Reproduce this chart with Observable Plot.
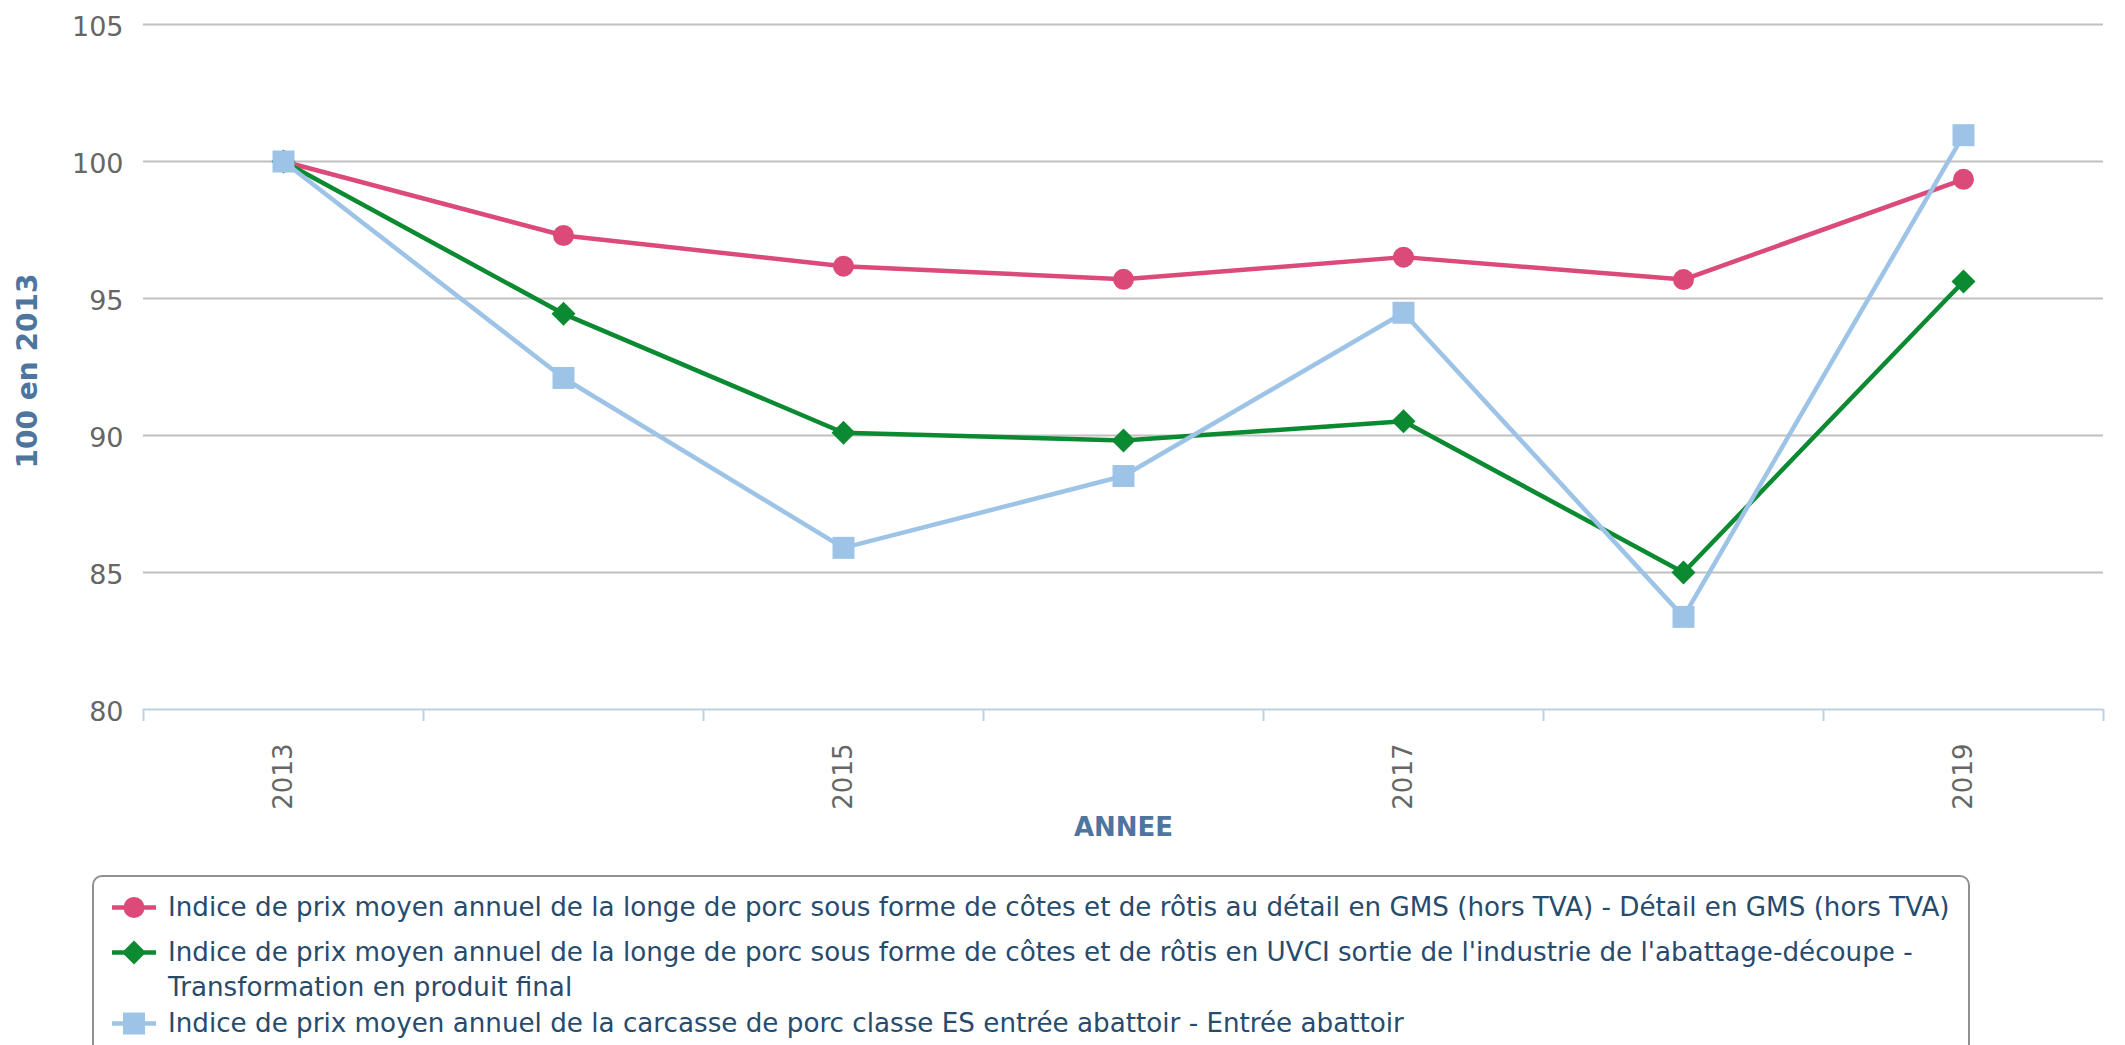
<!DOCTYPE html>
<html>
<head>
<meta charset="utf-8">
<script src="https://cdn.jsdelivr.net/npm/d3@7"></script>
<script src="https://cdn.jsdelivr.net/npm/@observablehq/plot@0.6"></script>
<style>
  body { margin: 0; background: #fff; font-family: "DejaVu Sans", sans-serif; }
  #wrap { position: relative; width: 2125px; height: 1045px; overflow: hidden; background: #fff; }
  #chart svg { display: block; }
  #legend { position: absolute; left: 92px; top: 875px; width: 1878px; height: 200px;
            border: 2px solid #909090; border-radius: 10px; box-sizing: border-box; }
  .item { position: absolute; left: 0; display: flex; align-items: flex-start; }
  .sym { width: 74px; height: 35px; flex: none; }
  .lab { font-size: 26.2px; line-height: 35px; color: #274b6d; white-space: pre-line; }
</style>
</head>
<body>
<div id="wrap">
  <div id="chart"></div>
  <div id="legend"></div>
</div>
<script>
// ---- data ----
const years = [2013, 2014, 2015, 2016, 2017, 2018, 2019];
const detailGMS      = [100, 97.30, 96.18, 95.70, 96.51, 95.69, 99.35];
const transformation = [100, 94.44, 90.10, 89.82, 90.52, 85.00, 95.62];
const entreeAbattoir = [100, 92.10, 85.90, 88.52, 94.48, 83.38, 100.96];
const seriesNames = [
  "Indice de prix moyen annuel de la longe de porc sous forme de côtes et de rôtis au détail en GMS (hors TVA) - Détail en GMS (hors TVA)",
  "Indice de prix moyen annuel de la longe de porc sous forme de côtes et de rôtis en UVCI sortie de l'industrie de l'abattage-découpe -\nTransformation en produit final",
  "Indice de prix moyen annuel de la carcasse de porc classe ES entrée abattoir - Entrée abattoir"
];
const seriesValues = [detailGMS, transformation, entreeAbattoir];
const seriesColors = ["#db4a78", "#0b8a31", "#9dc3e6"];
const seriesSymbols = ["circle", "diamond2", "square"];
const seriesR = [10.5, 10.8, 12.4];
const yTicks = [80, 85, 90, 95, 100, 105];
const xLabelYears = [2013, 2015, 2017, 2019];
const yTitle = "100 en 2013";
const xTitle = "ANNEE";

// ---- derived tables ----
const boundaries = years.map(y => y - 0.5).concat([years[years.length - 1] + 0.5]);
const series = seriesValues.map((vals, s) =>
  years.map((year, i) => ({year, value: vals[i], s})));

const marks = [
  Plot.ruleY(yTicks.filter(v => v > yTicks[0]), {stroke: "#c0c0c0", strokeWidth: 2}),
  Plot.ruleY([yTicks[0]], {stroke: "#c0d0e0", strokeWidth: 2}),
  Plot.axisX({ticks: boundaries, tickSize: 12, tickFormat: () => "", stroke: "#c0d0e0", strokeWidth: 2, label: null}),
  Plot.axisX({ticks: xLabelYears, tickSize: 0, tickPadding: 34, tickRotate: -90, tickFormat: d3.format("d"),
              fontSize: 26, fill: "#666", label: null}),
  Plot.axisY({ticks: yTicks, tickSize: 0, tickPadding: 20, tickFormat: d3.format("d"),
              fontSize: 27, fill: "#666", label: null, dy: 3}),
  Plot.text([yTitle], {frameAnchor: "left", rotate: -90, dx: -115, dy: 4, textAnchor: "middle", lineAnchor: "middle",
              fontSize: 28, fontWeight: "bold", fill: "#4d759e"}),
  Plot.text([xTitle], {frameAnchor: "bottom", dy: 118, textAnchor: "middle", lineAnchor: "middle",
              fontSize: 26, fontWeight: "bold", fill: "#4d759e"})
];
series.forEach((data, s) => {
  marks.push(Plot.line(data, {x: "year", y: "value", stroke: seriesColors[s], strokeWidth: 4.5}));
  marks.push(Plot.dot(data, {x: "year", y: "value", fill: seriesColors[s], symbol: seriesSymbols[s], r: seriesR[s], stroke: "none"}));
});

const chart = Plot.plot({
  width: 2125,
  height: 870,
  marginLeft: 143,
  marginRight: 22,
  marginTop: 24,
  marginBottom: 161,
  style: {fontFamily: "DejaVu Sans", background: "white"},
  x: {type: "linear", domain: [boundaries[0], boundaries[boundaries.length - 1]]},
  y: {domain: [yTicks[0], yTicks[yTicks.length - 1]]},
  marks
});
document.getElementById("chart").appendChild(chart);

// ---- legend ----
const legend = document.getElementById("legend");
const rowTops = [12.5, 57.5, 128.5];
seriesNames.forEach((name, s) => {
  const item = document.createElement("div");
  item.className = "item";
  item.style.top = rowTops[s] + "px";
  const ns = "http://www.w3.org/2000/svg";
  const svg = document.createElementNS(ns, "svg");
  svg.setAttribute("class", "sym");
  svg.setAttribute("width", 74);
  svg.setAttribute("height", 35);
  const line = document.createElementNS(ns, "line");
  line.setAttribute("x1", 18); line.setAttribute("x2", 62);
  line.setAttribute("y1", 17.5); line.setAttribute("y2", 17.5);
  line.setAttribute("stroke", seriesColors[s]); line.setAttribute("stroke-width", 4.5);
  svg.appendChild(line);
  const path = document.createElementNS(ns, "path");
  const sym = {circle: d3.symbolCircle, diamond2: d3.symbolDiamond2, square: d3.symbolSquare}[seriesSymbols[s]];
  path.setAttribute("d", d3.symbol(sym, Math.PI * seriesR[s] * seriesR[s])());
  path.setAttribute("transform", "translate(40,17.5)");
  path.setAttribute("fill", seriesColors[s]);
  svg.appendChild(path);
  item.appendChild(svg);
  const lab = document.createElement("div");
  lab.className = "lab";
  lab.textContent = name;
  item.appendChild(lab);
  legend.appendChild(item);
});
</script>
</body>
</html>
